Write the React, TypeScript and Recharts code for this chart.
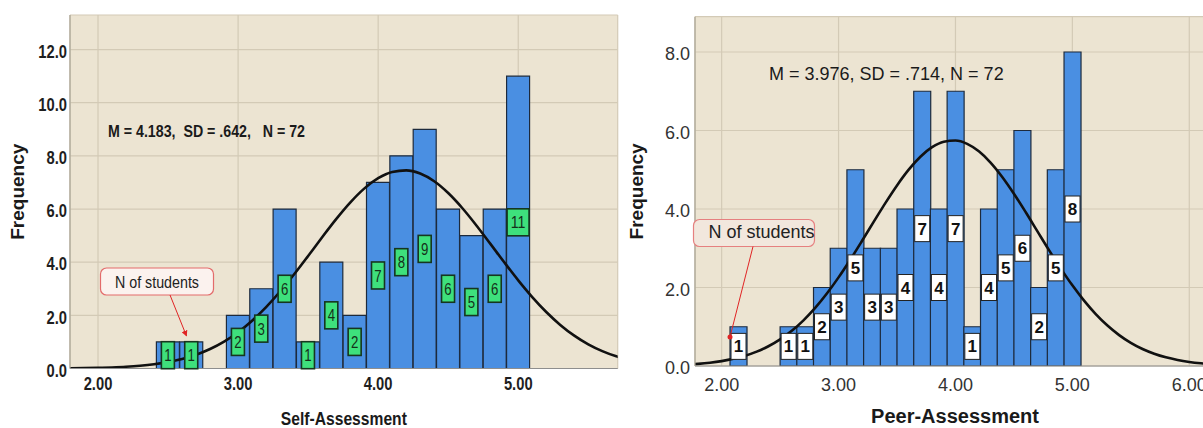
import React from 'react';
import { ComposedChart, Bar, Line, XAxis, YAxis, CartesianGrid, LabelList } from 'recharts';

// ---------- Self-Assessment (left) ----------
const selfBinCenters = [2.5, 2.6667, 2.8333, 3.0, 3.1667, 3.3333, 3.5, 3.6667, 3.8333, 4.0, 4.1667, 4.3333, 4.5, 4.6667, 4.8333, 5.0];
const selfCounts = [1, 1, 0, 2, 3, 6, 1, 4, 2, 7, 8, 9, 6, 5, 6, 11];
const selfCurveX = [1.7, 1.8, 1.9, 2.0, 2.1, 2.2, 2.3, 2.4, 2.5, 2.6, 2.7, 2.8, 2.9, 3.0, 3.1, 3.2, 3.3, 3.4, 3.5, 3.6, 3.7, 3.8, 3.9, 4.0, 4.1, 4.2, 4.3, 4.4, 4.5, 4.6, 4.7, 4.8, 4.9, 5.0, 5.1, 5.2, 5.3, 5.4, 5.5, 5.6, 5.7, 5.8];
const selfCurveY = [0.004, 0.008, 0.013, 0.023, 0.039, 0.063, 0.101, 0.158, 0.240, 0.357, 0.517, 0.733, 1.012, 1.366, 1.798, 2.309, 2.896, 3.545, 4.235, 4.938, 5.619, 6.241, 6.767, 7.160, 7.395, 7.454, 7.334, 7.043, 6.601, 6.039, 5.392, 4.699, 3.997, 3.318, 2.689, 2.126, 1.641, 1.237, 0.909, 0.653, 0.457, 0.313];
const selfXTicks = [2, 3, 4, 5];
const selfYTicks = [0, 2, 4, 6, 8, 10, 12];
const selfXDomain = [1.8, 5.71];
const selfYDomain = [0, 13.3];

// ---------- Peer-Assessment (right) ----------
const peerBinCenters = [2.1429, 2.2857, 2.4286, 2.5714, 2.7143, 2.8571, 3.0, 3.1429, 3.2857, 3.4286, 3.5714, 3.7143, 3.8571, 4.0, 4.1429, 4.2857, 4.4286, 4.5714, 4.7143, 4.8571, 5.0];
const peerCounts = [1, 0, 0, 1, 1, 2, 3, 5, 3, 3, 4, 7, 4, 7, 1, 4, 5, 6, 2, 5, 8];
const peerCurveX = [1.7, 1.8, 1.9, 2.0, 2.1, 2.2, 2.3, 2.4, 2.5, 2.6, 2.7, 2.8, 2.9, 3.0, 3.1, 3.2, 3.3, 3.4, 3.5, 3.6, 3.7, 3.8, 3.9, 4.0, 4.1, 4.2, 4.3, 4.4, 4.5, 4.6, 4.7, 4.8, 4.9, 5.0, 5.1, 5.2, 5.3, 5.4, 5.5, 5.6, 5.7, 5.8, 5.9, 6.0, 6.1, 6.2, 6.3];
const peerCurveY = [0.036, 0.055, 0.084, 0.125, 0.182, 0.261, 0.366, 0.503, 0.679, 0.897, 1.164, 1.480, 1.846, 2.258, 2.708, 3.184, 3.671, 4.151, 4.602, 5.003, 5.333, 5.575, 5.715, 5.744, 5.661, 5.471, 5.185, 4.818, 4.390, 3.923, 3.437, 2.953, 2.488, 2.055, 1.665, 1.322, 1.030, 0.787, 0.589, 0.432, 0.312, 0.220, 0.152, 0.103, 0.069, 0.045, 0.029];
const peerXTicks = [2, 3, 4, 5, 6];
const peerYTicks = [0, 2, 4, 6, 8];
const peerXDomain = [1.772, 6.22];
const peerYDomain = [0, 8.9];

const SANS = '"Liberation Sans", Arial, Helvetica, sans-serif';
const PLOT_BG = '#ece4d2';
const GRID = '#d3cab6';
const BAR_FILL = '#4a8fe2';
const BAR_STROKE = '#1d2a3c';

// approximate advance of a condensed bold numeric string (digits 0.456em, period 0.228em)
const narrowWidth = (s: string, fs: number) => {
  let w = 0;
  for (const ch of s) w += ch === '.' ? 0.228 : 0.456;
  return w * fs;
};

type LabelStyle = {
  fill: string;
  stroke: string;
  strokeWidth: number;
  text: string;
  fontSize: number;
  fontWeight: string | number;
  narrow: boolean;
  w: number;
  extra: number;
  h: number;
};

const greenLabel: LabelStyle = {
  fill: '#3ee07c', stroke: '#16361f', strokeWidth: 1.6, text: '#15301a',
  fontSize: 17, fontWeight: 'normal', narrow: true, w: 13, extra: 9, h: 27,
};
const whiteLabel: LabelStyle = {
  fill: '#ffffff', stroke: '#222222', strokeWidth: 1, text: '#111111',
  fontSize: 17, fontWeight: 'bold', narrow: false, w: 15, extra: 10, h: 26,
};

const makeLabel = (st: LabelStyle) => (props: any) => {
  const vb = props.viewBox && props.viewBox.width !== undefined ? props.viewBox : props;
  const { x, y, width, height } = vb;
  const value = props.value;
  if (!value) return null;
  const cx = x + width / 2;
  const cy = y + height / 2;
  const s = String(value);
  const w = st.w + (s.length - 1) * st.extra;
  const extraProps: any = st.narrow ? { textLength: narrowWidth(s, st.fontSize) * 0.95, lengthAdjust: 'spacingAndGlyphs' } : {};
  return (
    <g>
      <rect x={cx - w / 2} y={cy - st.h / 2} width={w} height={st.h} fill={st.fill} stroke={st.stroke} strokeWidth={st.strokeWidth} />
      <text x={cx} y={cy} dy="0.36em" textAnchor="middle" fill={st.text} fontFamily={SANS} fontSize={st.fontSize} fontWeight={st.fontWeight} {...extraProps}>
        {s}
      </text>
    </g>
  );
};

const makeTick = (axis: 'x' | 'y', narrow: boolean, fs: number, weight: string | number, color: string, digits: number) => (props: any) => {
  const { x, y, payload, textAnchor } = props;
  const s = Number(payload.value).toFixed(digits);
  const extraProps: any = narrow ? { textLength: narrowWidth(s, fs), lengthAdjust: 'spacingAndGlyphs' } : {};
  return (
    <text
      x={x}
      y={y}
      dy={axis === 'x' ? '0.71em' : '0.46em'}
      textAnchor={textAnchor}
      fontFamily={SANS}
      fontSize={fs}
      fontWeight={weight}
      fill={color}
      {...extraProps}
    >
      {s}
    </text>
  );
};

type HistProps = {
  width: number;
  height: number;
  margin: { top: number; right: number; bottom: number; left: number };
  yAxisWidth: number;
  xAxisHeight: number;
  centers: number[];
  counts: number[];
  curveX: number[];
  curveY: number[];
  xDomain: number[];
  yDomain: number[];
  xTicks: number[];
  yTicks: number[];
  label: LabelStyle;
  narrow: boolean;
  tickSize: number;
  tickWeight: string | number;
  tickColor: string;
  yTickGap: number;
  xTickGap: number;
  xTitle: string;
  xTitleSize: number;
  xTitleLength?: number;
  xTitleDy: number;
  yTitleX: number;
};

function Histogram(p: HistProps) {
  const binData = p.centers.map((x, i) => ({ x, count: p.counts[i] }));
  const curveData = p.curveX.map((x, i) => ({ x, y: p.curveY[i] }));
  return (
    <ComposedChart width={p.width} height={p.height} data={binData} margin={p.margin} barCategoryGap={0} barGap={0}>
      <CartesianGrid xAxisId="bins" fill={PLOT_BG} fillOpacity={1} stroke={GRID} strokeWidth={1.2} />
      <XAxis
        xAxisId="bins"
        type="number"
        dataKey="x"
        domain={p.xDomain}
        allowDataOverflow
        ticks={p.xTicks}
        interval={0}
        tickLine={false}
        tickSize={0}
        tickMargin={p.xTickGap}
        axisLine={{ stroke: '#8e8e8e', strokeWidth: 1.2 }}
        height={p.xAxisHeight}
        tick={makeTick('x', p.narrow, p.tickSize, p.tickWeight, p.tickColor, 2)}
        label={{
          content: (lp: any) => {
            const vb = lp.viewBox;
            const extra: any = p.xTitleLength ? { textLength: p.xTitleLength, lengthAdjust: 'spacingAndGlyphs' } : {};
            return (
              <text x={vb.x + vb.width / 2} y={vb.y + p.xTitleDy} textAnchor="middle" fontFamily={SANS} fontWeight="bold" fontSize={p.xTitleSize} fill="#1a1a1a" {...extra}>
                {p.xTitle}
              </text>
            );
          },
        }}
      />
      <XAxis xAxisId="curve" type="number" dataKey="x" domain={p.xDomain} allowDataOverflow hide />
      <YAxis
        type="number"
        domain={p.yDomain}
        allowDataOverflow
        ticks={p.yTicks}
        interval={0}
        tickLine={false}
        tickSize={0}
        tickMargin={p.yTickGap}
        axisLine={{ stroke: '#aaa496', strokeWidth: 1.2 }}
        width={p.yAxisWidth}
        tick={makeTick('y', p.narrow, p.tickSize, p.tickWeight, p.tickColor, 1)}
        label={{
          content: (lp: any) => {
            const vb = lp.viewBox;
            const cx = vb.x + p.yTitleX;
            const cy = vb.y + vb.height / 2;
            return (
              <text x={cx} y={cy} dy="0.35em" textAnchor="middle" transform={`rotate(-90 ${cx} ${cy})`} fontFamily={SANS} fontWeight="bold" fontSize={19} fill="#1a1a1a">
                Frequency
              </text>
            );
          },
        }}
      />
      <Bar xAxisId="bins" dataKey="count" fill={BAR_FILL} stroke={BAR_STROKE} strokeWidth={1.2} isAnimationActive={false}>
        <LabelList dataKey="count" content={makeLabel(p.label)} />
      </Bar>
      <Line xAxisId="curve" data={curveData} dataKey="y" type="monotone" dot={false} activeDot={false} stroke="#111111" strokeWidth={2.6} isAnimationActive={false} />
    </ComposedChart>
  );
}

export default function App() {
  return (
    <div style={{ position: 'absolute', left: 0, top: 0, width: 1203, height: 428, overflow: 'hidden', background: '#ffffff' }}>
      <div style={{ position: 'absolute', left: 0, top: 0 }}>
        <Histogram
          width={620}
          height={428}
          margin={{ top: 15, right: 2.3, bottom: 0, left: 0 }}
          yAxisWidth={70}
          xAxisHeight={59.5}
          centers={selfBinCenters}
          counts={selfCounts}
          curveX={selfCurveX}
          curveY={selfCurveY}
          xDomain={selfXDomain}
          yDomain={selfYDomain}
          xTicks={selfXTicks}
          yTicks={selfYTicks}
          label={greenLabel}
          narrow={true}
          tickSize={18}
          tickWeight="bold"
          tickColor="#1e1e1e"
          yTickGap={3}
          xTickGap={9}
          xTitle="Self-Assessment"
          xTitleSize={18}
          xTitleLength={126}
          xTitleDy={56.5}
          yTitleX={17.8}
        />
      </div>
      <div style={{ position: 'absolute', left: 620, top: 0 }}>
        <Histogram
          width={600}
          height={428}
          margin={{ top: 16.7, right: 5, bottom: 0, left: 0 }}
          yAxisWidth={75}
          xAxisHeight={62}
          centers={peerBinCenters}
          counts={peerCounts}
          curveX={peerCurveX}
          curveY={peerCurveY}
          xDomain={peerXDomain}
          yDomain={peerYDomain}
          xTicks={peerXTicks}
          yTicks={peerYTicks}
          label={whiteLabel}
          narrow={false}
          tickSize={18}
          tickWeight="normal"
          tickColor="#333333"
          yTickGap={5}
          xTickGap={12}
          xTitle="Peer-Assessment"
          xTitleSize={20}
          xTitleDy={57}
          yTitleX={16.7}
        />
      </div>
      <svg width={1203} height={428} style={{ position: 'absolute', left: 0, top: 0, pointerEvents: 'none' }}>
        <defs>
          <marker id="arrowRed" viewBox="0 0 10 10" refX="9" refY="5" markerWidth="6" markerHeight="6" orient="auto-start-reverse">
            <path d="M0,0 L10,5 L0,10 z" fill="#e02424" />
          </marker>
        </defs>
        <text x={108} y={137} fontFamily={SANS} fontWeight="bold" fontSize={17} fill="#1a1a1a" style={{ whiteSpace: 'pre' }} textLength={197} lengthAdjust="spacingAndGlyphs">
          {'M = 4.183,  SD = .642,   N = 72'}
        </text>
        <rect x={100.5} y={268} width={113} height={27} rx={6} fill="#fbf2ee" stroke="#e36b6b" strokeWidth={1.2} />
        <text x={115} y={288} fontFamily={SANS} fontSize={17} fill="#222222" textLength={84} lengthAdjust="spacingAndGlyphs">N of students</text>
        <line x1={170} y1={295} x2={186.5} y2={336} stroke="#e02424" strokeWidth={1} markerEnd="url(#arrowRed)" />

        <text x={769} y={80} fontFamily={SANS} fontSize={18} fill="#1a1a1a">M = 3.976, SD = .714, N = 72</text>
        <rect x={693.5} y={219.5} width={121} height={27} rx={6} fill="#f2e7dd" stroke="#e68080" strokeWidth={1.2} />
        <text x={708.5} y={238} fontFamily={SANS} fontSize={18} fill="#222222">N of students</text>
        <line x1={753} y1={246.5} x2={730} y2={337} stroke="#e02424" strokeWidth={1} />
        <circle cx={730} cy={337} r={2.5} fill="#e02424" />
      </svg>
    </div>
  );
}
